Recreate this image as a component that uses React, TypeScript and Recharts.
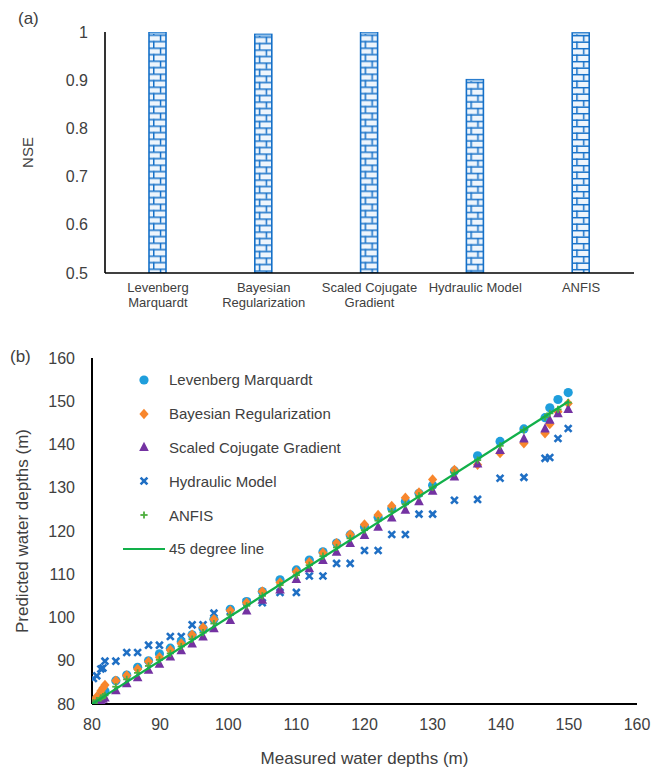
import React from 'react';
import { BarChart, Bar, XAxis, YAxis, ScatterChart, Scatter } from 'recharts';

const FONT = '"Liberation Sans", Arial, Helvetica, sans-serif';
const TXT = '#404040';
const BRICK = '#1570C8';

// ---- Panel (a) data ----
const categories = ['Levenberg Marquardt', 'Bayesian Regularization', 'Scaled Cojugate Gradient', 'Hydraulic Model', 'ANFIS'];
const nseValues = [0.999, 0.995, 0.999, 0.901, 0.998];
const nseTicks = [0.5, 0.6, 0.7, 0.8, 0.9, 1];

// ---- Panel (b) data ----
const measured = [80.2, 80.7, 81.3, 81.6, 81.9, 83.5, 85.1, 86.7, 88.3, 89.9, 91.5, 93.1, 94.7, 96.3, 97.9, 100.3, 102.7, 105.0, 107.6, 110.0, 111.9, 113.9, 115.9, 117.9, 120.0, 122.0, 124.0, 126.0, 128.0, 130.0, 133.2, 136.6, 139.9, 143.4, 146.5, 147.2, 148.4, 149.9];
const lmPred = [80.4, 81.2, 82.0, 82.5, 83.0, 85.4, 86.7, 88.5, 90.0, 91.6, 92.9, 94.4, 96.0, 97.5, 99.6, 101.9, 103.7, 106.0, 108.7, 111.0, 113.3, 115.2, 117.2, 119.1, 121.0, 123.2, 125.2, 126.8, 128.7, 130.6, 133.9, 137.4, 140.7, 143.6, 146.2, 148.5, 150.4, 152.0];
const brPred = [80.6, 81.7, 83.0, 83.7, 84.4, 85.4, 86.6, 88.1, 89.8, 90.8, 92.5, 94.0, 96.0, 97.7, 99.6, 101.6, 103.4, 106.0, 108.1, 110.6, 112.8, 115.0, 117.2, 119.2, 121.5, 123.7, 125.8, 127.7, 128.9, 131.9, 134.1, 135.3, 138.0, 140.3, 142.6, 144.7, 147.6, 149.5];
const scgPred = [80.0, 80.4, 80.9, 81.2, 81.5, 83.2, 84.8, 86.2, 87.9, 89.3, 91.0, 92.4, 94.0, 95.6, 97.5, 99.4, 101.6, 104.1, 106.5, 108.9, 111.4, 113.3, 115.2, 117.2, 119.1, 121.0, 123.1, 124.9, 126.9, 129.3, 132.6, 135.6, 138.7, 141.4, 143.7, 145.7, 147.2, 148.2];
const hydPred = [85.9, 86.5, 88.1, 88.3, 89.9, 89.9, 91.9, 91.9, 93.6, 93.6, 95.6, 95.6, 98.3, 98.3, 101.0, 101.4, 103.6, 103.4, 105.8, 105.8, 109.6, 109.6, 112.5, 112.5, 115.5, 115.5, 119.2, 119.2, 123.9, 123.9, 127.1, 127.3, 132.2, 132.4, 136.8, 137.0, 141.4, 143.7];
const anfisPred = [80.3, 80.8, 81.4, 81.7, 82.0, 84.0, 85.7, 87.2, 88.8, 90.2, 91.7, 93.3, 95.0, 96.5, 98.6, 100.6, 102.7, 105.0, 107.5, 109.8, 112.1, 114.2, 116.2, 118.3, 120.2, 122.4, 124.5, 126.2, 128.1, 130.1, 133.4, 136.4, 139.7, 143.4, 146.3, 147.2, 148.1, 149.7];
const lineEnds = [80, 150];
const depthTicks = [80, 90, 100, 110, 120, 130, 140, 150, 160];

const seriesNames = ['Levenberg Marquardt', 'Bayesian Regularization', 'Scaled Cojugate Gradient', 'Hydraulic Model', 'ANFIS', '45 degree line'];

const barData = categories.map((name, i) => ({ name, nse: nseValues[i] }));
const toPts = (ys: number[]) => measured.map((x, i) => ({ x, y: ys[i] }));
const lineData = lineEnds.map((v) => ({ x: v, y: v }));

const C_LM = '#1F9EDC';
const C_BR = '#F8862C';
const C_SCG = '#7432A2';
const C_HYD = '#1F6FC4';
const C_AN = '#4DAE3E';
const C_LINE = '#12B04A';

// ---- marker drawings ----
const circleM = (cx: number, cy: number) => <circle cx={cx} cy={cy} r={4.6} fill={C_LM} />;
const diamondM = (cx: number, cy: number) => (
  <path d={`M${cx},${cy - 5.2}L${cx + 4.6},${cy}L${cx},${cy + 5.2}L${cx - 4.6},${cy}Z`} fill={C_BR} />
);
const triM = (cx: number, cy: number) => (
  <path d={`M${cx},${cy - 5.2}L${cx + 4.8},${cy + 4}L${cx - 4.8},${cy + 4}Z`} fill={C_SCG} />
);
const xM = (cx: number, cy: number) => (
  <g stroke={C_HYD} strokeWidth={2.6} strokeLinecap="butt">
    <line x1={cx - 3.4} y1={cy - 3.4} x2={cx + 3.4} y2={cy + 3.4} />
    <line x1={cx - 3.4} y1={cy + 3.4} x2={cx + 3.4} y2={cy - 3.4} />
  </g>
);
const plusM = (cx: number, cy: number) => (
  <g stroke={C_AN} strokeWidth={1.8}>
    <line x1={cx - 3.6} y1={cy} x2={cx + 3.6} y2={cy} />
    <line x1={cx} y1={cy - 3.6} x2={cx} y2={cy + 3.6} />
  </g>
);
const lineM = (cx: number, cy: number) => <line x1={0} y1={cy} x2={42} y2={cy} stroke={C_LINE} strokeWidth={2.2} />;

const markerFns = [circleM, diamondM, triM, xM, plusM, lineM];

const mkShape = (fn: (cx: number, cy: number) => React.ReactElement) => (p: any) => fn(p.cx, p.cy);

const BrickBar = (props: any) => {
  const { x, y, width, height, index } = props;
  if (!width || !height) return <g />;
  const id = `brick-pat-${index}`;
  const rowH = 6.5;
  return (
    <g>
      <defs>
        <pattern id={id} patternUnits="userSpaceOnUse" x={x} y={y + 2} width={width} height={rowH * 2}>
          <rect x={0} y={0} width={width} height={rowH * 2} fill="#EEF5FC" />
          <line x1={0} y1={0.7} x2={width} y2={0.7} stroke={BRICK} strokeWidth={1.5} />
          <line x1={0} y1={rowH + 0.7} x2={width} y2={rowH + 0.7} stroke={BRICK} strokeWidth={1.5} />
          <line x1={width * 0.68} y1={0} x2={width * 0.68} y2={rowH} stroke={BRICK} strokeWidth={1.5} />
          <line x1={width * 0.28} y1={rowH} x2={width * 0.28} y2={rowH * 2} stroke={BRICK} strokeWidth={1.5} />
        </pattern>
      </defs>
      <rect x={x} y={y} width={width} height={height} fill={`url(#${id})`} stroke={BRICK} strokeWidth={1.6} />
      <line x1={x + 0.8} y1={y + 0.8} x2={x + width - 0.8} y2={y + 0.8} stroke="#8DBDE8" strokeWidth={1.4} />
    </g>
  );
};

// greedy word wrap by character count (labels wrap like the category axis of the original)
const wrapLabel = (s: string, maxChars: number) => {
  const words = s.split(' ');
  const lines: string[] = [];
  let cur = '';
  words.forEach((w) => {
    const next = cur ? cur + ' ' + w : w;
    if (next.length > maxChars && cur) {
      lines.push(cur);
      cur = w;
    } else {
      cur = next;
    }
  });
  if (cur) lines.push(cur);
  return lines;
};

const CatTick = (props: any) => {
  const { x, y, payload } = props;
  const lines = wrapLabel(String(payload.value), 15);
  return (
    <text x={x} y={y + 17} textAnchor="middle" fill={TXT} fontSize={13} fontFamily={FONT}>
      {lines.map((l, i) => (
        <tspan key={i} x={x} dy={i === 0 ? 0 : 15}>
          {l}
        </tspan>
      ))}
    </text>
  );
};

const tickStyle = { fill: TXT, fontSize: 16, fontFamily: FONT };

export default function App() {
  return (
    <div style={{ position: 'absolute', left: 0, top: 0, width: 651, height: 770, background: '#fff', fontFamily: FONT, overflow: 'hidden' }}>
      <div style={{ position: 'absolute', left: 0, top: 0 }}>
        <BarChart width={651} height={330} data={barData} margin={{ top: 32, right: 17, bottom: 0, left: 0 }}>
          <XAxis
            dataKey="name"
            interval={0}
            height={57}
            tickLine={false}
            tickSize={0}
            axisLine={{ stroke: '#000', strokeWidth: 1.6 }}
            tick={<CatTick />}
          />
          <YAxis
            type="number"
            domain={[0.5, 1]}
            ticks={nseTicks}
            width={105}
            tickLine={false}
            tickSize={0}
            tickMargin={17}
            axisLine={{ stroke: '#000', strokeWidth: 1.6 }}
            tick={tickStyle}
            tickFormatter={(v: number) => String(v)}
            allowDataOverflow
            label={{ value: 'NSE', angle: -90, position: 'insideLeft', offset: 28, style: { textAnchor: 'middle', fill: TXT, fontSize: 15, fontFamily: FONT } }}
          />
          <Bar dataKey="nse" barSize={17} shape={BrickBar} isAnimationActive={false} />
        </BarChart>
      </div>
      <div style={{ position: 'absolute', left: 0, top: 330 }}>
        <ScatterChart width={651} height={440} margin={{ top: 28, right: 14, bottom: 6, left: 0 }}>
          <XAxis
            type="number"
            dataKey="x"
            domain={[80, 160]}
            ticks={depthTicks}
            allowDataOverflow
            height={60}
            tickLine={false}
            tickSize={0}
            tickMargin={15}
            axisLine={{ stroke: '#000', strokeWidth: 2 }}
            tick={tickStyle}
            label={{ value: 'Measured water depths (m)', position: 'insideBottom', offset: 0, style: { textAnchor: 'middle', fill: TXT, fontSize: 17, fontFamily: FONT } }}
          />
          <YAxis
            type="number"
            dataKey="y"
            domain={[80, 160]}
            ticks={depthTicks}
            allowDataOverflow
            width={92}
            tickLine={false}
            tickSize={0}
            tickMargin={17}
            axisLine={{ stroke: '#000', strokeWidth: 2 }}
            tick={tickStyle}
            label={{ value: 'Predicted water depths (m)', angle: -90, position: 'insideLeft', offset: 22, style: { textAnchor: 'middle', fill: TXT, fontSize: 17, fontFamily: FONT } }}
          />
          <Scatter name={seriesNames[3]} data={toPts(hydPred)} shape={mkShape(xM)} isAnimationActive={false} />
          <Scatter name={seriesNames[0]} data={toPts(lmPred)} shape={mkShape(circleM)} isAnimationActive={false} />
          <Scatter name={seriesNames[1]} data={toPts(brPred)} shape={mkShape(diamondM)} isAnimationActive={false} />
          <Scatter name={seriesNames[2]} data={toPts(scgPred)} shape={mkShape(triM)} isAnimationActive={false} />
          <Scatter name={seriesNames[4]} data={toPts(anfisPred)} shape={mkShape(plusM)} isAnimationActive={false} />
          <Scatter
            name={seriesNames[5]}
            data={lineData}
            line={{ stroke: C_LINE, strokeWidth: 2.2 }}
            shape={() => <g />}
            isAnimationActive={false}
          />
        </ScatterChart>
      </div>
      <div style={{ position: 'absolute', left: 123, top: 363, fontSize: 15, color: TXT, fontFamily: FONT }}>
        {seriesNames.map((n, i) => (
          <div key={n} style={{ display: 'flex', alignItems: 'center', height: 33.8 }}>
            <svg width={42} height={20} style={{ display: 'block' }}>
              {markerFns[i](21, 10)}
            </svg>
            <span style={{ marginLeft: 4, whiteSpace: 'nowrap' }}>{n}</span>
          </div>
        ))}
      </div>
      <div style={{ position: 'absolute', left: 18, top: 10, fontSize: 17, lineHeight: '17px', color: TXT }}>(a)</div>
      <div style={{ position: 'absolute', left: 10, top: 348, fontSize: 17, lineHeight: '17px', color: TXT }}>(b)</div>
    </div>
  );
}
